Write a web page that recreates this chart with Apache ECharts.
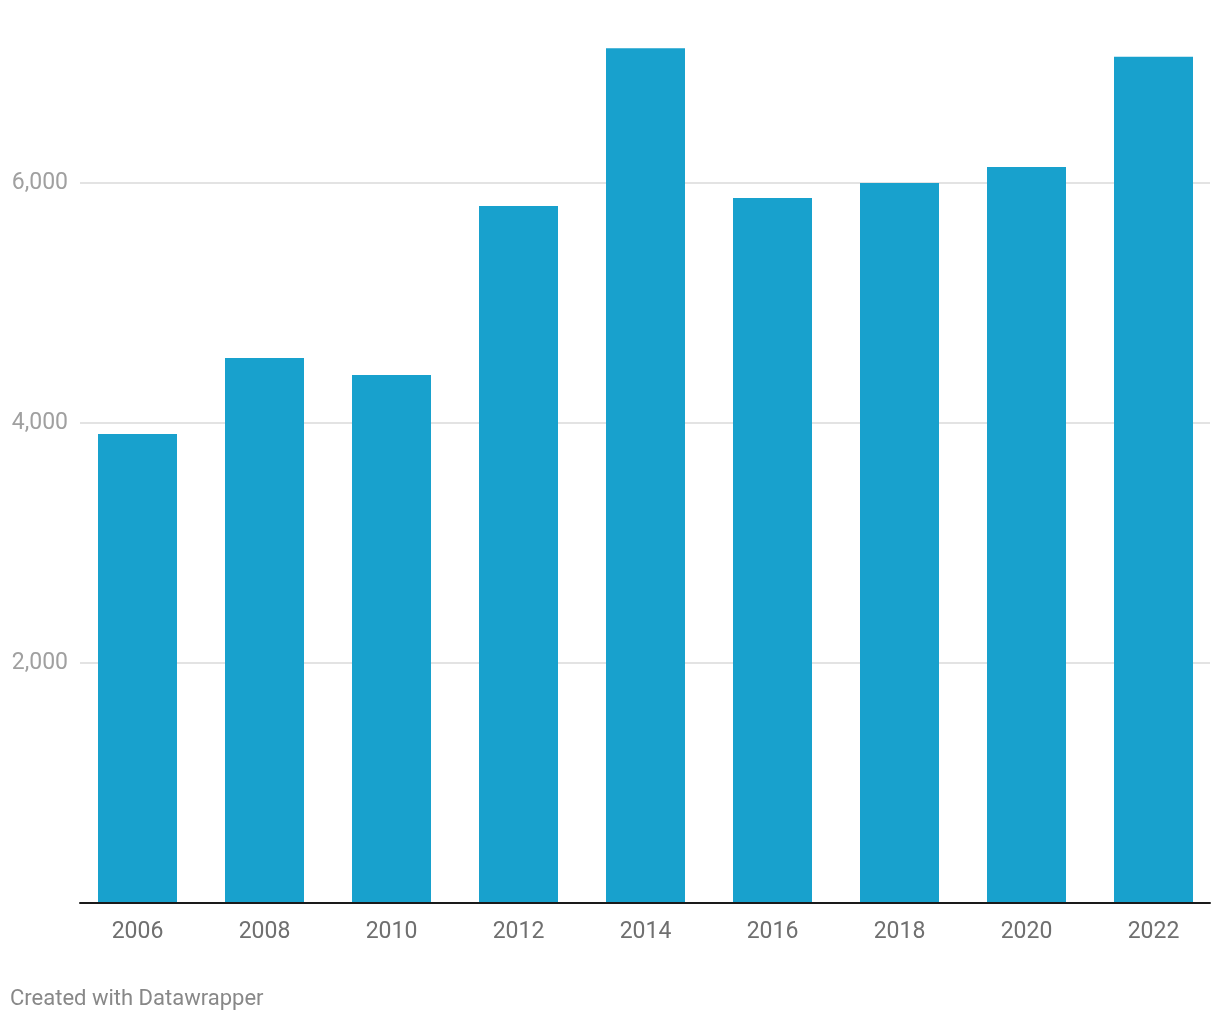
<!DOCTYPE html>
<html>
<head>
<meta charset="utf-8">
<script src="https://cdn.jsdelivr.net/npm/echarts@6/dist/echarts.min.js"></script>
<style>
html,body{margin:0;padding:0;background:#fff;}
#c{width:1220px;height:1020px;}
</style>
</head>
<body>
<div id="c"></div>
<script>
const years = ['2006','2008','2010','2012','2014','2016','2018','2020','2022'];
const values = [3908, 4542, 4400, 5808, 7122, 5875, 6000, 6133, 7052];
const yTicks = [0, 2000, 4000, 6000];

const chart = echarts.init(document.getElementById('c'), null, {renderer: 'canvas'});
chart.setOption({
  animation: false,
  backgroundColor: '#ffffff',
  textStyle: {fontFamily: 'Roboto'},
  grid: [
    {left: 80, right: 10, top: 183, bottom: 117},
    {left: 74, right: 3, top: 39, bottom: 117}
  ],
  xAxis: [
    {gridIndex: 0, type: 'value', min: 0, max: 1, z: 10,
     axisLine: {show: true, lineStyle: {color: '#1a1a1a', width: 2}},
     axisTick: {show: false}, axisLabel: {show: false}, splitLine: {show: false}},
    {gridIndex: 1, type: 'category', data: years, z: 11,
     axisLine: {show: false}, axisTick: {show: false},
     axisLabel: {color: '#6f6f6f', fontSize: 23, fontFamily: 'Roboto', margin: 18}}
  ],
  yAxis: [
    {gridIndex: 0, type: 'value', min: yTicks[0], max: yTicks[yTicks.length-1], interval: 2000,
     axisLine: {show: false}, axisTick: {show: false},
     axisLabel: {color: '#a0a0a0', fontSize: 23, fontFamily: 'Roboto', margin: 12,
       padding: [8, 0, 0, 0],
       formatter: v => v === 0 ? '' : v.toLocaleString('en-US')},
     splitLine: {lineStyle: {color: '#e3e3e3', width: 2}}},
    {gridIndex: 1, type: 'value', min: 0, max: 7200, show: false, splitLine: {show: false}}
  ],
  series: [{
    type: 'bar', xAxisIndex: 1, yAxisIndex: 1, data: values,
    barWidth: 79, itemStyle: {color: '#18a1cd'}
  }],
  graphic: [{
    type: 'text', left: 10, top: 988,
    style: {text: 'Created with Datawrapper', fill: '#888888', font: '22px Roboto'}
  }]
});
</script>
</body>
</html>
